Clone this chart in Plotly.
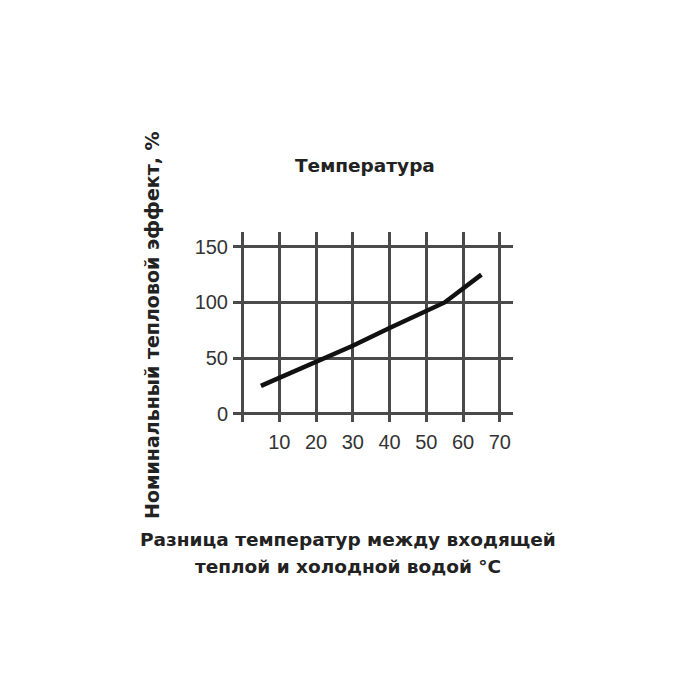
import plotly.graph_objects as go

# Data
x_vals = [5, 20, 30, 40, 50, 55, 65]
y_vals = [25, 46, 61, 77, 92, 100, 125]
x_ticks = [0, 10, 20, 30, 40, 50, 60, 70]
x_tick_labels = ["", "10", "20", "30", "40", "50", "60", "70"]
y_ticks = [0, 50, 100, 150]
y_tick_labels = ["0", "50", "100", "150"]

title_text = "Температура"
y_title = "Номинальный тепловой эффект, %"
x_title_lines = ["Разница температур между входящей", "теплой и холодной водой °C"]

bold_font = "DejaVu Sans"
tick_font = "Liberation Sans Narrow, Liberation Sans, Arial"

# plot area in window pixels: x 233..513, y 232..422
PX0, PX1, PY0, PY1 = 233, 513, 232, 422


def px(xp):
    return (xp - PX0) / (PX1 - PX0)


def py(yp):
    return (PY1 - yp) / (PY1 - PY0)


fig = go.Figure()
fig.add_trace(go.Scatter(
    x=x_vals, y=y_vals, mode="lines",
    line=dict(color="#111111", width=4.5),
    showlegend=False, hoverinfo="skip",
))

annotations = [
    dict(text="<b>" + title_text + "</b>", xref="paper", yref="paper",
         x=px(365), y=py(165), showarrow=False,
         xanchor="center", yanchor="middle",
         font=dict(family=bold_font, size=18.5, color="#222222")),
    dict(text="<b>" + y_title + "</b>", xref="paper", yref="paper",
         x=px(152), y=py(325), showarrow=False,
         textangle=-90, xanchor="center", yanchor="middle",
         font=dict(family=bold_font, size=19, color="#222222")),
]
for i, line in enumerate(x_title_lines):
    annotations.append(dict(
        text="<b>" + line + "</b>", xref="paper", yref="paper",
        x=px(348), y=py(539 + 27 * i), showarrow=False,
        xanchor="center", yanchor="middle",
        font=dict(family=bold_font, size=18.5, color="#222222")))

fig.update_layout(
    width=700, height=700,
    paper_bgcolor="white", plot_bgcolor="white",
    margin=dict(l=PX0 - 8, r=700 - PX1 + 8, t=PY0 - 8, b=700 - PY1 + 8),
    xaxis=dict(
        range=[-2.6, 73.6], tickvals=x_ticks, ticktext=x_tick_labels,
        showgrid=True, gridcolor="#4a4a4a", gridwidth=2.5,
        zeroline=False, showline=False, ticks="",
        tickfont=dict(family=tick_font, size=20, color="#333333"),
        ticklabelstandoff=6, fixedrange=True,
    ),
    yaxis=dict(
        range=[-7.5, 163.3], tickvals=y_ticks, ticktext=y_tick_labels,
        showgrid=True, gridcolor="#4a4a4a", gridwidth=2.5,
        zeroline=False, showline=False, ticks="",
        tickfont=dict(family=tick_font, size=20, color="#333333"),
        ticklabelstandoff=4, fixedrange=True,
    ),
    annotations=annotations,
)

fig.write_html("out.html")
